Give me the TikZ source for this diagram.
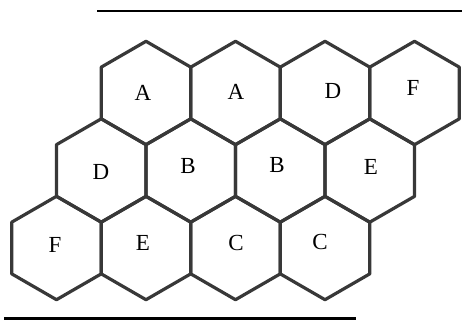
\documentclass[tikz,border=0pt]{standalone}
\usepackage{fontspec}
\setmainfont{Liberation Serif}
\begin{document}
\begin{tikzpicture}[x=1pt,y=-1pt,
  hexline/.style={draw=black!78,line width=3.2pt,line join=round},
  rule/.style={draw=black,line width=2.8pt},
  lbl/.style={font=\fontsize{23}{26}\selectfont,inner sep=0pt}]
\useasboundingbox (0,0) rectangle (462,321);
\def\r{51.7}
% hexagon grid
\foreach \cx/\cy in {146/93,235.5/93,325/93,414.5/93,
                     101.25/170.5,190.75/170.5,280.25/170.5,369.75/170.5,
                     56.5/248,146/248,235.5/248,325/248}{
  \draw[hexline] (\cx,\cy) +(90:\r) -- +(30:\r) -- +(-30:\r) -- +(-90:\r)
      -- +(-150:\r) -- +(150:\r) -- cycle;
}
% rules
\coordinate (t1) at (97,11);
\coordinate (t2) at (462,11);
\coordinate (b1) at (4,318.5);
\coordinate (b2) at (356,318.5);
\draw[rule] (t1) -- (t2);
\draw[rule] (b1) -- (b2);
% labels
\node[lbl] (a1) at (143,93) {A};
\node[lbl] (a2) at (236,92) {A};
\node[lbl] (d1) at (333,91) {D};
\node[lbl] (f1) at (413,88) {F};
\node[lbl] (d2) at (101,172) {D};
\node[lbl] (b1l) at (188,166) {B};
\node[lbl] (b2l) at (277,165) {B};
\node[lbl] (e1) at (371,167) {E};
\node[lbl] (f2) at (55,245) {F};
\node[lbl] (e2) at (143,243) {E};
\node[lbl] (c1) at (236,243) {C};
\node[lbl] (c2) at (320,242) {C};
\end{tikzpicture}
\end{document}
